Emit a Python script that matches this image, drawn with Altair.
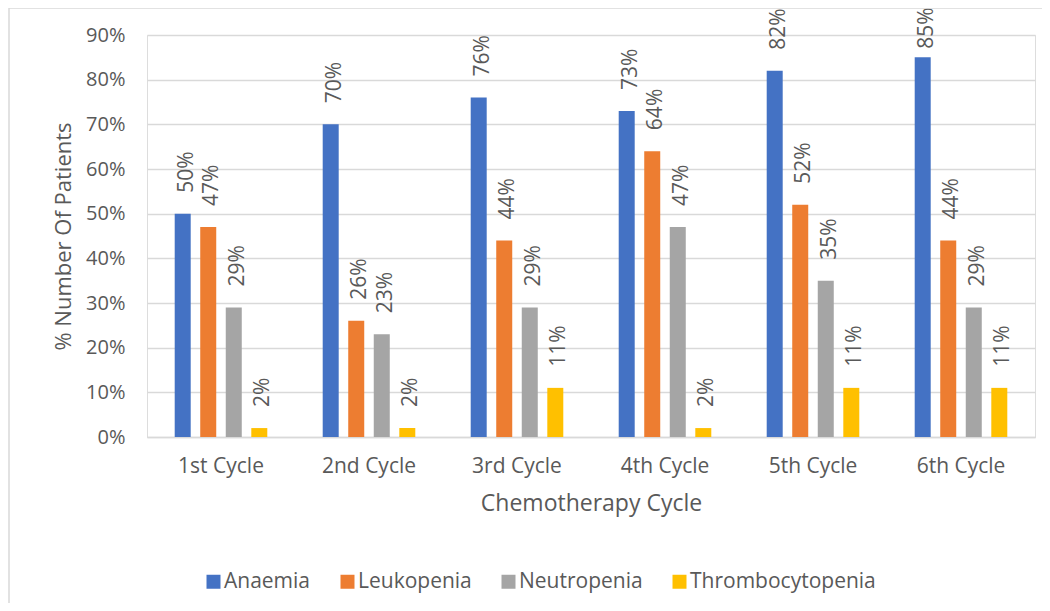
import altair as alt
import pandas as pd

cycles = ["1st Cycle", "2nd Cycle", "3rd Cycle", "4th Cycle", "5th Cycle", "6th Cycle"]
series = ["Anaemia", "Leukopenia", "Neutropenia", "Thrombocytopenia"]
colors = ["#4472C4", "#ED7D31", "#A5A5A5", "#FFC000"]
anaemia = [50, 70, 76, 73, 82, 85]
leukopenia = [47, 26, 44, 64, 52, 44]
neutropenia = [29, 23, 29, 47, 35, 29]
thrombocytopenia = [2, 2, 11, 2, 11, 11]

LABEL_CAP = 82.2  # labels that would leave the chart are held at the top, as in the original

rows = []
for s, vals in zip(series, [anaemia, leukopenia, neutropenia, thrombocytopenia]):
    for c, v in zip(cycles, vals):
        rows.append({"cycle": c, "series": s, "value": v / 100,
                     "ly": min(v, LABEL_CAP) / 100, "label": f"{v}%"})
df = pd.DataFrame(rows)

FONT = "Open Sans"
GREY = "#595959"

x = alt.X("cycle:N", sort=cycles,
          scale=alt.Scale(paddingInner=0.31, paddingOuter=0.155),
          axis=alt.Axis(title="Chemotherapy Cycle", labelAngle=0, ticks=False,
                        domain=True, domainColor="#d9d9d9", domainWidth=1.5,
                        labelPadding=18, labelFontSize=21, labelColor=GREY, labelFont=FONT,
                        titleFontSize=23, titleFont=FONT, titleColor=GREY,
                        titleFontWeight="normal", titleY=66, titleBaseline="middle"))
xo = alt.XOffset("series:N", sort=series,
                 scale=alt.Scale(paddingInner=0.373, paddingOuter=0.1865))
y = alt.Y("value:Q",
          scale=alt.Scale(domain=[0, 0.9], nice=False),
          axis=alt.Axis(title="% Number Of Patients", format=".0%", values=[i / 10 for i in range(10)],
                        ticks=False, domain=False, grid=True, gridColor="#d9d9d9", gridWidth=1.5,
                        labelPadding=22, labelFontSize=20, labelColor=GREY, labelFont=FONT,
                        titleFontSize=22, titleFont=FONT, titleColor=GREY, titleFontWeight="normal",
                        titleX=-84, titleY=201, titleAngle=270, titleAlign="center",
                        titleBaseline="middle"))
color = alt.Color("series:N", sort=series, scale=alt.Scale(domain=series, range=colors),
                  legend=alt.Legend(title=None, orient="none", direction="horizontal",
                                    legendX=56, legendY=536, symbolType="square", symbolSize=196,
                                    symbolStrokeWidth=0, labelFontSize=21, labelFont=FONT,
                                    labelColor=GREY, columnPadding=26, labelOffset=0, padding=0,
                                    labelLimit=400))

base = alt.Chart(df)
bars = base.mark_bar(width=16).encode(x=x, xOffset=xo, y=y, color=color)
labels = base.mark_text(angle=270, align="left", baseline="middle", dx=21, dy=4,
                        fontSize=21, font=FONT, color=GREY).encode(
    x=alt.X("cycle:N", sort=cycles), xOffset=alt.XOffset("series:N", sort=series), y="ly:Q",
    text="label:N")

border = alt.Chart(pd.DataFrame({"k": [0]})).mark_rule(color="#d9d9d9", strokeWidth=1.5).encode(
    x=alt.value(-138), y=alt.value(-27), y2=alt.value(580))
border_top = alt.Chart(pd.DataFrame({"k": [0]})).mark_rule(color="#d9d9d9", strokeWidth=1.5).encode(
    x=alt.value(-138), x2=alt.value(905), y=alt.value(-27))

chart = alt.layer(bars, labels, border, border_top).properties(
    width=888, height=402,
    autosize=alt.AutoSizeParams(type="none"),
    padding={"left": 139, "top": 27, "right": 7, "bottom": 166},
).configure_view(stroke=None).configure(background="white")

chart.save("out.html", embed_options={"renderer": "svg", "actions": False})
